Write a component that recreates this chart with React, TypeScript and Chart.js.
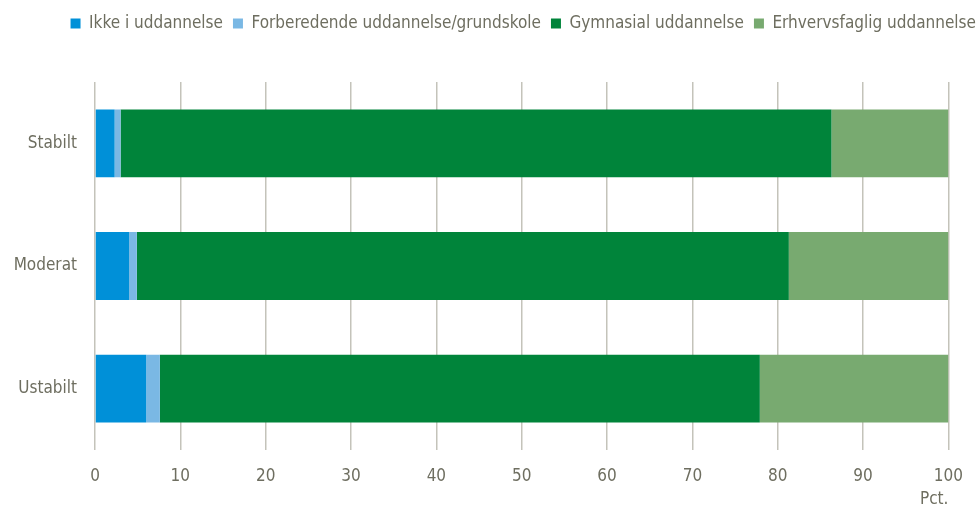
import React, { useEffect, useRef } from "react";
import { Chart, registerables } from "chart.js";

Chart.register(...registerables);

const categories = ["Stabilt", "Moderat", "Ustabilt"];
const seriesNames = [
  "Ikke i uddannelse",
  "Forberedende uddannelse/grundskole",
  "Gymnasial uddannelse",
  "Erhvervsfaglig uddannelse",
];
const ikkeUddannelse = [2.3, 4.0, 6.0];
const forberedende = [0.7, 0.9, 1.6];
const gymnasial = [83.3, 76.4, 70.3];
const erhvervsfaglig = [13.7, 18.7, 22.1];
const colors = ["#0090d8", "#7ab8e4", "#00843a", "#78aa70"];

const FONT = "'Liberation Sans Narrow', 'DejaVu Sans Condensed', Arial, sans-serif";
const FS = 17;
const TEXT = "#6e6e60";
const GRID = "#c4c3ba";

export default function App() {
  const ref = useRef<HTMLCanvasElement>(null);
  useEffect(() => {
    if (!ref.current) return;
    const values = [ikkeUddannelse, forberedende, gymnasial, erhvervsfaglig];
    const legendSpacer = {
      id: "legendSpacer",
      beforeInit(chart: any) {
        const orig = chart.legend.fit;
        chart.legend.fit = function () {
          orig.bind(chart.legend)();
          this.height += 40;
        };
      },
      afterLayout(chart: any) {
        const lg = chart.legend;
        lg.left = 3;
        lg.right = 986;
        lg.adjustHitBoxes();
      },
    };
    const chart = new Chart(ref.current, {
      type: "bar",
      data: {
        labels: categories,
        datasets: seriesNames.map((name, i) => ({
          label: name,
          data: values[i],
          backgroundColor: colors[i],
          borderWidth: 0,
          categoryPercentage: 0.553,
          barPercentage: 1,
        })),
      },
      options: {
        indexAxis: "y",
        animation: false,
        responsive: false,
        layout: { padding: { top: 5, right: 29, left: 0, bottom: 0 } },
        plugins: {
          legend: {
            position: "top",
            align: "end",
            labels: {
              font: { family: FONT, size: FS },
              color: TEXT,
              boxWidth: 10,
              boxHeight: 10,
              padding: 10,
            },
          },
          tooltip: { enabled: false },
        },
        scales: {
          x: {
            stacked: true,
            min: 0,
            max: 100,
            ticks: {
              stepSize: 10,
              font: { family: FONT, size: FS },
              color: TEXT,
              padding: 16,
            },
            grid: { color: GRID, lineWidth: 1.5, drawTicks: false },
            border: { display: false },
            title: {
              display: true,
              text: "Pct.",
              align: "end",
              font: { family: FONT, size: FS },
              color: TEXT,
              padding: { top: 0, bottom: 0 },
            },
            afterFit(scale: any) {
              scale.height = 60;
            },
          },
          y: {
            stacked: true,
            ticks: {
              font: { family: FONT, size: FS },
              color: TEXT,
              padding: 18,
            },
            grid: { display: false, drawTicks: false },
            border: { display: false },
            afterFit(scale: any) {
              scale.width = 95;
            },
          },
        },
      },
      plugins: [legendSpacer],
    });
    return () => chart.destroy();
  }, []);
  return (
    <div style={{ position: "fixed", left: 0, top: 0, width: 979, height: 510, background: "#fff" }}>
      <canvas ref={ref} width={979} height={510} />
    </div>
  );
}
